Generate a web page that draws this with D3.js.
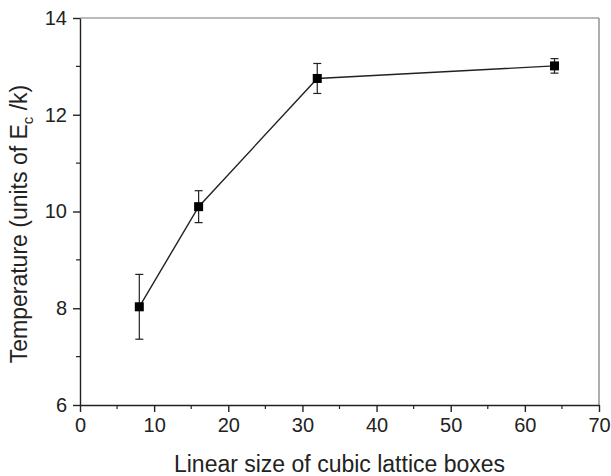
<!DOCTYPE html>
<html lang="en">
<head>
<meta charset="UTF-8" />
<title>Temperature vs lattice size</title>
<style>
  body { margin: 0; background: #fff; }
  svg { display: block; font-family: "Liberation Sans", Arial, sans-serif; }
  .tick text { font-size: 20px; fill: #222; }
  .title { font-size: 23px; fill: #222; }
</style>
<script src="https://cdn.jsdelivr.net/npm/d3@7"></script>
</head>
<body>
<svg id="chart" width="611" height="476"></svg>
<script>
// lattice size (x), temperature (y), error half-width
const sizes = [8, 16, 32, 64];
const temps = [8.03, 10.10, 12.75, 13.01];
const errs = [0.67, 0.33, 0.31, 0.15];
const xTicks = [0, 10, 20, 30, 40, 50, 60, 70];
const yTicks = [6, 8, 10, 12, 14];

const margin = {left: 80, right: 12, top: 18, bottom: 71};
const W = 611, H = 476;
const svg = d3.select("#chart");

const x = d3.scaleLinear().domain([0, 70]).range([margin.left, W - margin.right]);
const y = d3.scaleLinear().domain([6, 14]).range([H - margin.bottom, margin.top]);

// frame: top and right lines are lighter
svg.append("line").attr("x1", x(0)).attr("x2", x(70)).attr("y1", y(14)).attr("y2", y(14))
  .attr("stroke", "#777").attr("stroke-width", 1.2);
svg.append("line").attr("x1", x(70)).attr("x2", x(70)).attr("y1", y(14)).attr("y2", y(6))
  .attr("stroke", "#777").attr("stroke-width", 1.2);

// minor ticks
const minorX = d3.range(5, 70, 10);
const minorY = d3.range(7, 14, 2);
svg.append("g").selectAll("line").data(minorX).join("line")
  .attr("x1", d => x(d)).attr("x2", d => x(d))
  .attr("y1", y(6)).attr("y2", y(6) + 4)
  .attr("stroke", "#222").attr("stroke-width", 1.2);
svg.append("g").selectAll("line").data(minorY).join("line")
  .attr("x1", x(0)).attr("x2", x(0) - 4)
  .attr("y1", d => y(d)).attr("y2", d => y(d))
  .attr("stroke", "#222").attr("stroke-width", 1.2);

const xAxis = svg.append("g").attr("transform", `translate(0,${y(6)})`)
  .call(d3.axisBottom(x).tickValues(xTicks).tickSize(7).tickPadding(6).tickSizeOuter(0));
const yAxis = svg.append("g").attr("transform", `translate(${x(0)},0)`)
  .call(d3.axisLeft(y).tickValues(yTicks).tickSize(7).tickPadding(6).tickSizeOuter(0));
[xAxis, yAxis].forEach(g => {
  g.selectAll("path, line").attr("stroke", "#222").attr("stroke-width", 1.4);
  g.attr("font-family", null).attr("font-size", null);
});

// connecting line
const pts = sizes.map((s, i) => ({s, t: temps[i], e: errs[i]}));
svg.append("path").datum(pts)
  .attr("d", d3.line().x(d => x(d.s)).y(d => y(d.t)))
  .attr("fill", "none").attr("stroke", "#222").attr("stroke-width", 1.4);

// error bars
const eb = svg.append("g").attr("stroke", "#222").attr("stroke-width", 1.2);
pts.forEach(d => {
  eb.append("line").attr("x1", x(d.s)).attr("x2", x(d.s)).attr("y1", y(d.t + d.e)).attr("y2", y(d.t - d.e));
  [d.t + d.e, d.t - d.e].forEach(v => {
    eb.append("line").attr("x1", x(d.s) - 4).attr("x2", x(d.s) + 4).attr("y1", y(v)).attr("y2", y(v));
  });
});

// square markers
svg.append("g").selectAll("rect").data(pts).join("rect")
  .attr("x", d => x(d.s) - 4.5).attr("y", d => y(d.t) - 4.5)
  .attr("width", 9).attr("height", 9).attr("fill", "#000");

// titles
svg.append("text").attr("class", "title")
  .attr("x", (x(0) + x(70)) / 2).attr("y", 472)
  .attr("text-anchor", "middle").text("Linear size of cubic lattice boxes");

const yt = svg.append("text").attr("class", "title")
  .attr("transform", `translate(27,224) rotate(-90)`)
  .attr("text-anchor", "middle");
yt.append("tspan").text("Temperature (units of E");
yt.append("tspan").attr("font-size", "15px").attr("dy", 6).text("c");
yt.append("tspan").attr("dy", -6).text(" /k)");
</script>
</body>
</html>
